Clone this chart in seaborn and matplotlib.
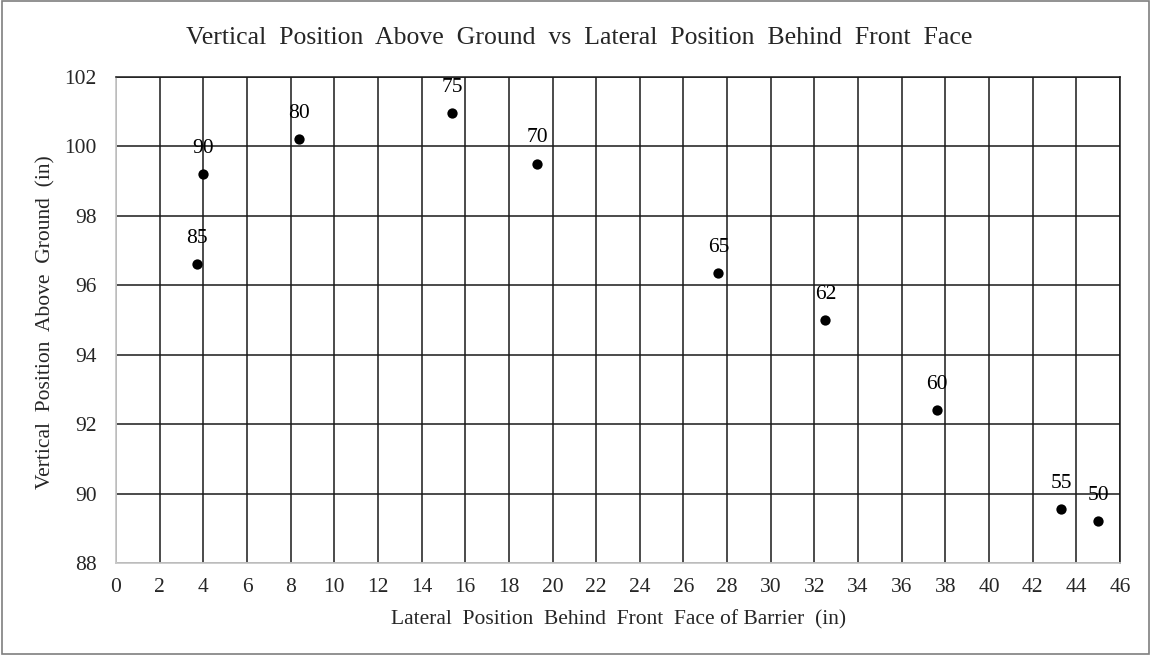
import matplotlib
matplotlib.use("Agg")
import matplotlib.pyplot as plt
import seaborn as sns
import pandas as pd
from matplotlib.patches import Rectangle

# Data
labels = ["85", "90", "80", "75", "70", "65", "62", "60", "55", "50"]
lateral = [3.7, 4.0, 8.4, 15.4, 19.3, 27.6, 32.5, 37.6, 43.3, 45.0]
vertical = [96.6, 99.2, 100.2, 100.95, 99.5, 96.35, 95.0, 92.4, 89.55, 89.2]
x_ticks = list(range(0, 47, 2))
y_ticks = list(range(88, 103, 2))

df = pd.DataFrame({"x": lateral, "y": vertical, "label": labels})

sns.set_style("white")
plt.rcParams["font.family"] = ["Liberation Serif", "DejaVu Serif"]

fig = plt.figure(figsize=(11.51, 6.55), dpi=100)
ax = fig.add_axes([116 / 1151, 1 - 563 / 655, 1004 / 1151, 486.3 / 655])

sns.scatterplot(data=df, x="x", y="y", ax=ax, color="black", s=55,
                edgecolor="black", linewidth=0, zorder=3)

for _, r in df.iterrows():
    ax.annotate(r["label"], (r["x"], r["y"]), xytext=(0, 18.5),
                textcoords="offset points", ha="center", va="center",
                fontsize=15.5, color="black")

ax.set_xlim(0, 46)
ax.set_ylim(88, 102)
ax.set_xticks(x_ticks)
ax.set_yticks(y_ticks)
ax.grid(True, color="#1a1a1a", linewidth=1.1)
ax.set_axisbelow(True)
for side in ["top", "right"]:
    ax.spines[side].set_color("#1a1a1a")
    ax.spines[side].set_linewidth(1.1)
for side in ["left", "bottom"]:
    ax.spines[side].set_color("#c8c8c8")
    ax.spines[side].set_linewidth(1.3)
ax.tick_params(axis="x", length=0, labelsize=15.5, pad=11)
ax.tick_params(axis="y", length=0, labelsize=15.5, pad=14)

ax.set_xlabel("Lateral  Position  Behind  Front  Face of Barrier  (in)", fontsize=15.5)
ax.xaxis.set_label_coords(0.501, -0.117)
ax.xaxis.label.set_va("center")
ax.set_ylabel("Vertical  Position  Above  Ground  (in)", fontsize=15.5)
ax.yaxis.set_label_coords(-0.0697, 0.4956)
ax.yaxis.label.set_va("center")

fig.text(579.5 / 1151, 1 - 38 / 655,
         "Vertical  Position  Above  Ground  vs  Lateral  Position  Behind  Front  Face",
         ha="center", va="center", fontsize=18.5)

fig.patches.append(Rectangle((0.002, 0.002), 0.996, 0.996, transform=fig.transFigure,
                             fill=False, edgecolor="#7f7f7f", linewidth=1.2))

fig.savefig("out.png", dpi=100)
